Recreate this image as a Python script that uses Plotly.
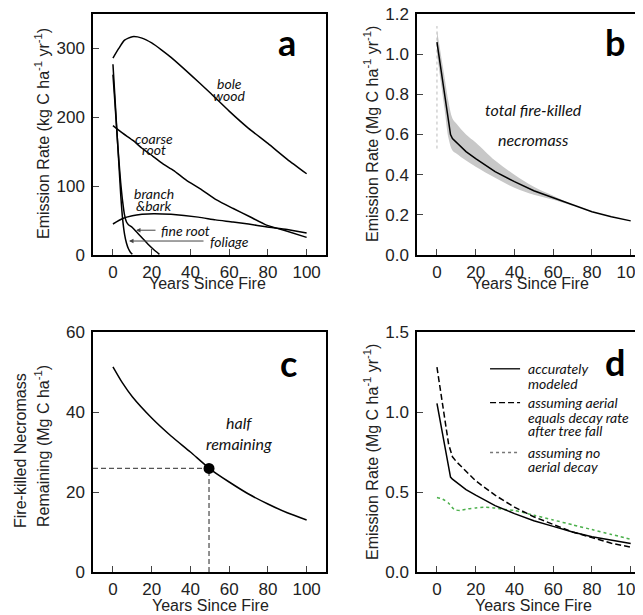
import plotly.graph_objects as go

# the page body adds an 8px offset; the figure is sized so that it ends at the window edge
OFF = 8
W, H = 643 - OFF, 615 - OFF

# ---------------- data ----------------
# panel a (kg C ha-1 yr-1)
bole_x = [0, 3, 6, 10, 15, 20, 25, 30, 40, 50, 60, 70, 80, 90, 100]
bole_y = [286, 300, 312, 317, 315, 308, 298, 287, 262, 236, 209, 184, 162, 139, 118]
coarse_x = [0, 5, 10.5, 15, 20.8, 26, 31.2, 38, 44.9, 53.5, 62.1, 70.7, 79.3, 87.9, 100]
coarse_y = [188, 177, 166, 155, 143, 132, 123, 108.5, 96.5, 80, 67.5, 55.5, 43.4, 36.2, 25.6]
branch_x = [0, 5, 10, 15, 21, 30, 44, 53, 62, 70, 79, 90, 100]
branch_y = [45, 53, 57, 59, 60, 59, 55, 51, 48, 45, 41, 37, 32]
fine_x = [0, 1, 2, 3, 4, 5, 6, 7, 8, 10, 12, 15, 18, 21, 24]
fine_y = [262, 222, 180, 140, 105, 78, 58, 48, 44, 40, 34, 25, 16, 8, 1]
foliage_x = [0, 1, 2, 3, 4, 5, 6, 7, 8, 9, 10]
foliage_y = [277, 230, 182, 135, 88, 52, 30, 17, 9, 4, 1]

# panel b (Mg C ha-1 yr-1)
tot_x = [0, 2, 4, 6, 7, 8, 10, 15, 20, 30, 40, 50, 60, 70, 80, 90, 100]
tot_y = [1.06, 0.93, 0.80, 0.66, 0.60, 0.58, 0.56, 0.515, 0.48, 0.415, 0.365, 0.32, 0.285, 0.25, 0.215, 0.19, 0.17]
band_x = [0, 2, 4, 6, 8, 10, 15, 20, 30, 40, 50, 60, 70]
band_hi = [1.12, 1.0, 0.88, 0.76, 0.68, 0.655, 0.60, 0.56, 0.47, 0.40, 0.34, 0.295, 0.25]
band_lo = [1.00, 0.86, 0.72, 0.58, 0.52, 0.505, 0.47, 0.44, 0.385, 0.335, 0.30, 0.275, 0.245]
edge_x = [0, 0]
edge_y = [0.53, 1.14]

# panel c (Mg C ha-1)
rem_x = [0, 5, 10, 20, 30, 40, 50, 60, 70, 80, 90, 100]
rem_y = [51.3, 47.2, 43.8, 38.5, 34.0, 30.0, 25.8, 22.5, 19.5, 17.0, 14.8, 13.0]
half_x = [49.6]
half_y = [25.9]

# panel d (Mg C ha-1 yr-1)
acc_x = tot_x
acc_y = [1.054, 0.92, 0.79, 0.66, 0.593, 0.58, 0.56, 0.515, 0.48, 0.415, 0.365, 0.32, 0.285, 0.25, 0.22, 0.197, 0.178]
eq_x = [0, 2, 4, 6, 8, 10, 15, 20, 30, 40, 50, 60, 70, 80, 90, 100]
eq_y = [1.28, 1.12, 0.95, 0.80, 0.72, 0.69, 0.63, 0.57, 0.48, 0.405, 0.345, 0.295, 0.25, 0.215, 0.18, 0.155]
no_x = [0, 3, 6, 9, 12, 16, 20, 25, 30, 35, 40, 50, 60, 70, 80, 90, 100]
no_y = [0.465, 0.455, 0.43, 0.39, 0.385, 0.395, 0.40, 0.405, 0.40, 0.39, 0.385, 0.355, 0.325, 0.295, 0.265, 0.235, 0.205]

xticks = [0, 20, 40, 60, 80, 100]

# ---------------- figure ----------------
fig = go.Figure()
BLK = "black"

def line(x, y, xa, ya, color=BLK, dash="solid", width=1.5, shape="spline"):
    fig.add_trace(go.Scatter(x=x, y=y, xaxis=xa, yaxis=ya, mode="lines",
                             line=dict(color=color, width=width, dash=dash, shape=shape, smoothing=0.6),
                             showlegend=False, hoverinfo="skip"))

# a
for xs, ys in [(bole_x, bole_y), (coarse_x, coarse_y), (branch_x, branch_y),
               (fine_x, fine_y), (foliage_x, foliage_y)]:
    line(xs, ys, "x", "y")

# b
fig.add_trace(go.Scatter(x=band_x, y=band_lo, xaxis="x2", yaxis="y2", mode="lines",
                         line=dict(width=0, color="#c8c8c8", shape="spline"), showlegend=False, hoverinfo="skip"))
fig.add_trace(go.Scatter(x=band_x, y=band_hi, xaxis="x2", yaxis="y2", mode="lines", fill="tonexty",
                         fillcolor="#c8c8c8", line=dict(width=0, color="#c8c8c8", shape="spline"),
                         showlegend=False, hoverinfo="skip"))
line(edge_x, edge_y, "x2", "y2", color="#bbbbbb", dash="dot", width=1, shape="linear")
line(tot_x, tot_y, "x2", "y2", shape="linear")

# c
line(rem_x, rem_y, "x3", "y3")
fig.add_trace(go.Scatter(x=[-10.3, half_x[0]], y=[half_y[0], half_y[0]], xaxis="x3", yaxis="y3", mode="lines",
                         line=dict(color="#555555", width=1.3, dash="5px,3px"), showlegend=False, hoverinfo="skip"))
fig.add_trace(go.Scatter(x=[half_x[0], half_x[0]], y=[0, half_y[0]], xaxis="x3", yaxis="y3", mode="lines",
                         line=dict(color="#555555", width=1.3, dash="5px,3px"), showlegend=False, hoverinfo="skip"))
fig.add_trace(go.Scatter(x=half_x, y=half_y, xaxis="x3", yaxis="y3", mode="markers",
                         marker=dict(color="black", size=11), showlegend=False, hoverinfo="skip"))

# d
line(no_x, no_y, "x4", "y4", color="#4cb04c", dash="dot", width=1.5)
line(eq_x, eq_y, "x4", "y4", dash="6px,3px", shape="linear")
line(acc_x, acc_y, "x4", "y4", shape="linear")

# ---------------- axes ----------------
def px(v):
    return (v - OFF) / W

def py(v):
    return 1 - (v - OFF) / H

dom_left = [px(93), px(326)]
dom_right = [px(417), 1.0]
dom_top = [py(255), py(14)]
dom_bot = [py(572), py(332)]
tickfont = dict(family="Liberation Sans, Arial", size=17, color="#222")

def xax(domain, anchor, rng):
    return dict(domain=domain, anchor=anchor, range=rng, tickvals=xticks, ticks="inside", ticklen=6,
                tickwidth=1.3, showline=True, linecolor=BLK, linewidth=1.5, mirror=True, showgrid=False,
                zeroline=False, tickfont=tickfont, ticklabelstandoff=1, automargin=False,
                ticklabeloverflow="allow")

def yax(domain, anchor, rng, dtick, fmt, mirror=True):
    return dict(domain=domain, anchor=anchor, range=rng, dtick=dtick, tick0=0, tickformat=fmt,
                ticks="inside", ticklen=6, tickwidth=1.3, showline=True, linecolor=BLK, linewidth=1.5,
                mirror=mirror, showgrid=False, zeroline=False, tickfont=tickfont, ticklabelstandoff=3,
                automargin=False, ticklabeloverflow="allow")

fig.update_layout(
    width=W, height=H, margin=dict(l=0, r=0, t=0, b=0, pad=0, autoexpand=False),
    paper_bgcolor="white", plot_bgcolor="white",
    xaxis=xax(dom_left, "y", [-10.3, 110]),
    yaxis=yax(dom_top, "x", [0, 350], 100, "d"),
    xaxis2=xax(dom_right, "y2", [-10.3, 106.35]),
    yaxis2=yax(dom_top, "x2", [0, 1.2], 0.2, ".1f", mirror=False),
    xaxis3=xax(dom_left, "y3", [-10.3, 110]),
    yaxis3=yax(dom_bot, "x3", [0, 60], 20, "d"),
    xaxis4=xax(dom_right, "y4", [-10.3, 106.35]),
    yaxis4=yax(dom_bot, "x4", [0, 1.5], 0.5, ".1f", mirror=False),
)

ann = []
tfont = dict(family="Liberation Sans, Arial", size=16, color="#222")

def ptext(text, x, y, angle=0):
    ann.append(dict(text=text, x=px(x), y=py(y), xref="paper", yref="paper", showarrow=False,
                    textangle=angle, font=tfont, xanchor="center", yanchor="middle"))

for cx, cy in [(207, 283), (530, 283), (210, 605), (533, 605)]:
    ptext("Years Since Fire", cx, cy)
ptext("Emission Rate (kg C ha<sup>-1</sup> yr<sup>-1</sup>)", 42, 134, -90)
ptext("Emission Rate (Mg C ha<sup>-1</sup> yr<sup>-1</sup>)", 371, 134, -90)
ptext("Emission Rate (Mg C ha<sup>-1</sup> yr<sup>-1</sup>)", 371, 452, -90)
ptext("Fire-killed Necromass", 20, 451, -90)
ptext("Remaining (Mg C ha<sup>-1</sup>)", 42, 446, -90)

# panel letters
lfont = dict(family="Lato", size=36, color="black")
for t, cx, cy in [("a", 287, 42), ("b", 615, 42), ("c", 288, 363), ("d", 615, 362)]:
    ann.append(dict(text="<b>%s</b>" % t, x=px(cx), y=py(cy), xref="paper", yref="paper",
                    showarrow=False, font=lfont, xanchor="center", yanchor="middle"))

def itext(text, x, y, xa, ya, anchor="center", size=14):
    ann.append(dict(text="<i>%s</i>" % text, x=x, y=y, xref=xa, yref=ya, showarrow=False,
                    font=dict(family="Lato", size=size, color="#111"), xanchor=anchor, yanchor="middle"))

itext("bole", 60.4, 249, "x", "y")
itext("wood", 60.4, 231.5, "x", "y")
itext("coarse", 21.2, 169, "x", "y")
itext("root", 21.2, 153, "x", "y")
itext("branch", 21.2, 89.7, "x", "y")
itext("&bark", 21.2, 72.4, "x", "y")
itext("fine root", 23.7, 36, "x", "y", "left")
itext("foliage", 49, 20.3, "x", "y", "left")
for hx, hy, axo in [(11.9, 36, 21), (8.3, 20.3, 76)]:
    ann.append(dict(text="", x=hx, y=hy, xref="x", yref="y", ax=axo, ay=0, showarrow=True,
                    arrowhead=2, arrowsize=0.9, arrowwidth=1, arrowcolor="#444"))

itext("total fire-killed", 49.6, 0.725, "x2", "y2", size=16)
itext("necromass", 49.6, 0.575, "x2", "y2", size=16)

itext("half", 65, 37.5, "x3", "y3", size=16)
itext("remaining", 65, 32.25, "x3", "y3", size=16)

for t, yy in [("accurately", 1.27), ("modeled", 1.176), ("assuming aerial", 1.058),
              ("equals decay rate", 0.965), ("after tree fall", 0.884),
              ("assuming no", 0.747), ("aerial decay", 0.66)]:
    itext(t, 45.9, yy, "x4", "y4", "left", size=14)

fig.update_layout(annotations=ann)

shapes = []
for yy, dash, col in [(1.27, "solid", BLK), (1.058, "6px,3px", BLK), (0.747, "dot", "#777777")]:
    shapes.append(dict(type="line", xref="x4", yref="y4", x0=27.4, x1=42.9, y0=yy, y1=yy,
                       line=dict(color=col, width=1.3, dash=dash)))
fig.update_layout(shapes=shapes)

fig.write_html("out.html")
